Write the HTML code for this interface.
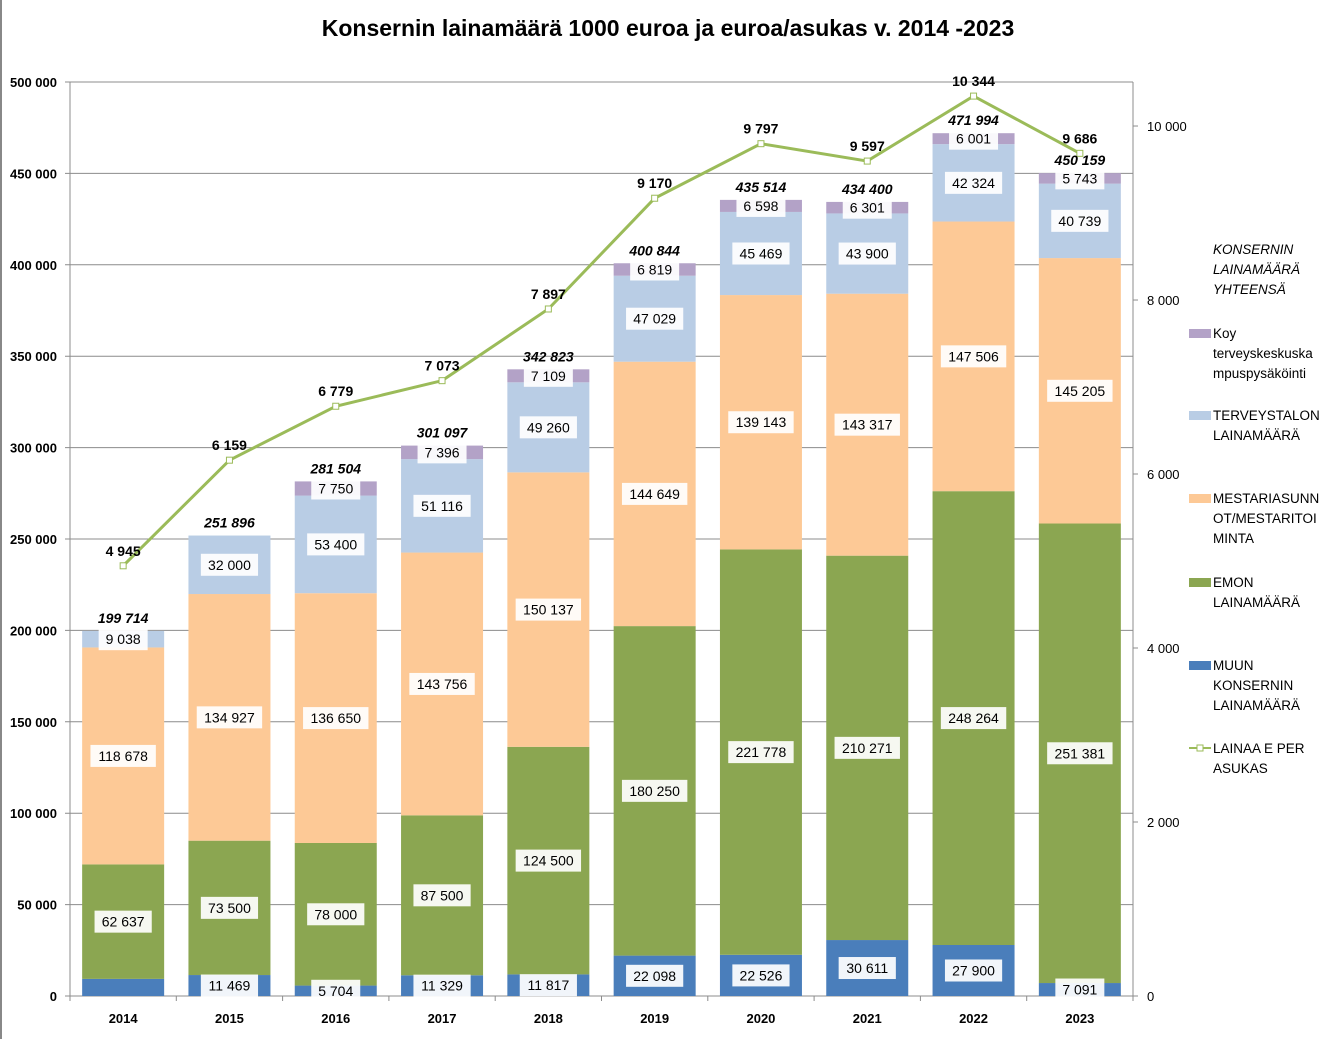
<!DOCTYPE html>
<html><head><meta charset="utf-8"><style>
html,body{margin:0;padding:0;background:#fff;}
svg{display:block;font-family:"Liberation Sans",sans-serif;}
</style></head><body>
<svg id="c" width="1338" height="1039" viewBox="0 0 1338 1039">
<line x1="1" y1="0" x2="1" y2="1039" stroke="#888" stroke-width="2"/>
<text x="668" y="36" text-anchor="middle" font-size="23" font-weight="bold">Konsernin lainamäärä 1000 euroa ja euroa/asukas v. 2014 -2023</text>
<g id="grid"></g><g id="bars"></g><g id="line"></g><g id="labels"></g><g id="axes"></g><g id="legend"></g>
</svg>
<script>
const years=["2014","2015","2016","2017","2018","2019","2020","2021","2022","2023"];
const muun=[9361,11469,5704,11329,11817,22098,22526,30611,27900,7091];
const emon=[62637,73500,78000,87500,124500,180250,221778,210271,248264,251381];
const mestari=[118678,134927,136650,143756,150137,144649,139143,143317,147506,145205];
const terveys=[9038,32000,53400,51116,49260,47029,45469,43900,42324,40739];
const koy=[0,0,7750,7396,7109,6819,6598,6301,6001,5743];
const totals=[199714,251896,281504,301097,342823,400844,435514,434400,471994,450159];
const perCapita=[4945,6159,6779,7073,7897,9170,9797,9597,10344,9686];
const leftTicks=[0,50000,100000,150000,200000,250000,300000,350000,400000,450000,500000];
const rightTicks=[0,2000,4000,6000,8000,10000];
const showMuunLabel=[false,true,true,true,true,true,true,true,true,true];

const NS="http://www.w3.org/2000/svg";
const X0=70,X1=1133,Y0=996,Y1=82;
const yL=v=>Y0-(v/500000)*(Y0-Y1);
const yR=v=>Y0-(v/10506)*(Y0-Y1);
const band=(X1-X0)/years.length;
const xC=i=>X0+band*(i+0.5);
const BW=82;
const fmt=v=>String(Math.round(v)).replace(/\B(?=(\d{3})+(?!\d))/g," ");
function el(t,a,p){const e=document.createElementNS(NS,t);for(const k in a)e.setAttribute(k,a[k]);document.getElementById(p).appendChild(e);return e;}

leftTicks.forEach(t=>{
  const g=el("line",{x1:X0-5,x2:X1,y1:yL(t),y2:yL(t),stroke:"#8c8c8c","stroke-width":1},"grid");
  
  
  const tx=el("text",{x:57,y:yL(t)+5,"text-anchor":"end","font-size":13,"font-weight":"bold"},"axes");
  tx.textContent=fmt(t);
  
  
});
rightTicks.forEach(t=>{
  const k=el("line",{x1:X1,x2:X1+5,y1:yR(t),y2:yR(t),stroke:"#8c8c8c"},"axes");
  
  
  const tx=el("text",{x:1147,y:yR(t)+5,"font-size":13},"axes");
  tx.textContent=fmt(t);
  
  
});
const ax=el("line",{x1:X0,x2:X0,y1:Y1,y2:Y0,stroke:"#8c8c8c"},"axes");


const axr=el("line",{x1:X1,x2:X1,y1:Y1,y2:Y0,stroke:"#8c8c8c"},"axes");


for(let i=0;i<=years.length;i++){
  const tk=el("line",{x1:X0+band*i,x2:X0+band*i,y1:Y0,y2:Y0+5,stroke:"#8c8c8c"},"axes");
  
  
}
years.forEach((y,i)=>{
  const tx=el("text",{x:xC(i),y:1023,"text-anchor":"middle","font-size":13,"font-weight":"bold"},"axes");
  tx.textContent=y;
  
  
});

const series=[
 {d:muun,c:"#4a7ebb",n:"muun"},
 {d:emon,c:"#8ba651",n:"emon"},
 {d:mestari,c:"#fdc996",n:"mestari"},
 {d:terveys,c:"#b9cde5",n:"terveys"},
 {d:koy,c:"#b3a2c7",n:"koy"}];
function label(x,y,txt,name){
  const w=txt.length*8.2+8;
  const r=el("rect",{x:x-w/2,y:y-11,width:w,height:22,fill:"#fff",opacity:0.92},"labels");
  
  
  const t=el("text",{x:x,y:y+5,"text-anchor":"middle","font-size":14},"labels");
  t.textContent=txt;
  
  
}
years.forEach((yr,i)=>{
  let acc=0;
  series.forEach(s=>{
    const v=s.d[i];
    if(v<=0)return;
    const yt=yL(acc+v),yb=yL(acc);
    const r=el("rect",{x:xC(i)-BW/2,y:yt,width:BW,height:yb-yt,fill:s.c},"bars");
    
    
    if(!(s.n==="muun"&&!showMuunLabel[i])) label(xC(i),(yt+yb)/2,fmt(v),s.n);
    acc+=v;
  });
  const t=el("text",{x:xC(i),y:yL(totals[i])-8,"text-anchor":"middle","font-size":14,"font-weight":"bold","font-style":"italic"},"labels");
  t.textContent=fmt(totals[i]);
  
  
});
const pts=perCapita.map((v,i)=>xC(i)+","+yR(v)).join(" ");
const pl=el("polyline",{points:pts,fill:"none",stroke:"#9bbb59","stroke-width":3},"line");


perCapita.forEach((v,i)=>{
  const m=el("rect",{x:xC(i)-3,y:yR(v)-3,width:6,height:6,fill:"#fff",stroke:"#9bbb59","stroke-width":1},"line");
  
  
  const t=el("text",{x:xC(i),y:yR(v)-10,"text-anchor":"middle","font-size":14,"font-weight":"bold"},"labels");
  t.textContent=fmt(v);
  
  
});

const legItems=[
 {lines:["KONSERNIN","LAINAMÄÄRÄ","YHTEENSÄ"],y:254,c:null,italic:true},
 {lines:["Koy","terveyskeskuska","mpuspysäköinti"],y:338,c:"#b3a2c7"},
 {lines:["TERVEYSTALON","LAINAMÄÄRÄ"],y:420,c:"#b9cde5"},
 {lines:["MESTARIASUNN","OT/MESTARITOI","MINTA"],y:503,c:"#fdc996"},
 {lines:["EMON","LAINAMÄÄRÄ"],y:587,c:"#8ba651"},
 {lines:["MUUN","KONSERNIN","LAINAMÄÄRÄ"],y:670,c:"#4a7ebb"},
 {lines:["LAINAA E PER","ASUKAS"],y:753,c:"line"}];
legItems.forEach(it=>{
  if(it.c==="line"){
    const l=el("line",{x1:1189,x2:1211,y1:it.y-5,y2:it.y-5,stroke:"#9bbb59","stroke-width":2},"legend");
    
    
    const m=el("rect",{x:1197,y:it.y-8,width:6,height:6,fill:"#fff",stroke:"#9bbb59"},"legend");
    
    
  }else if(it.c){
    const r=el("rect",{x:1189,y:it.y-9,width:22,height:9,fill:it.c},"legend");
    
    
  }
  it.lines.forEach((ln,j)=>{
    const t=el("text",{x:1213,y:it.y+j*20,"font-size":13.5,"font-style":it.italic?"italic":"normal"},"legend");
    t.textContent=ln;
    
    
  });
});
</script>
</body></html>
